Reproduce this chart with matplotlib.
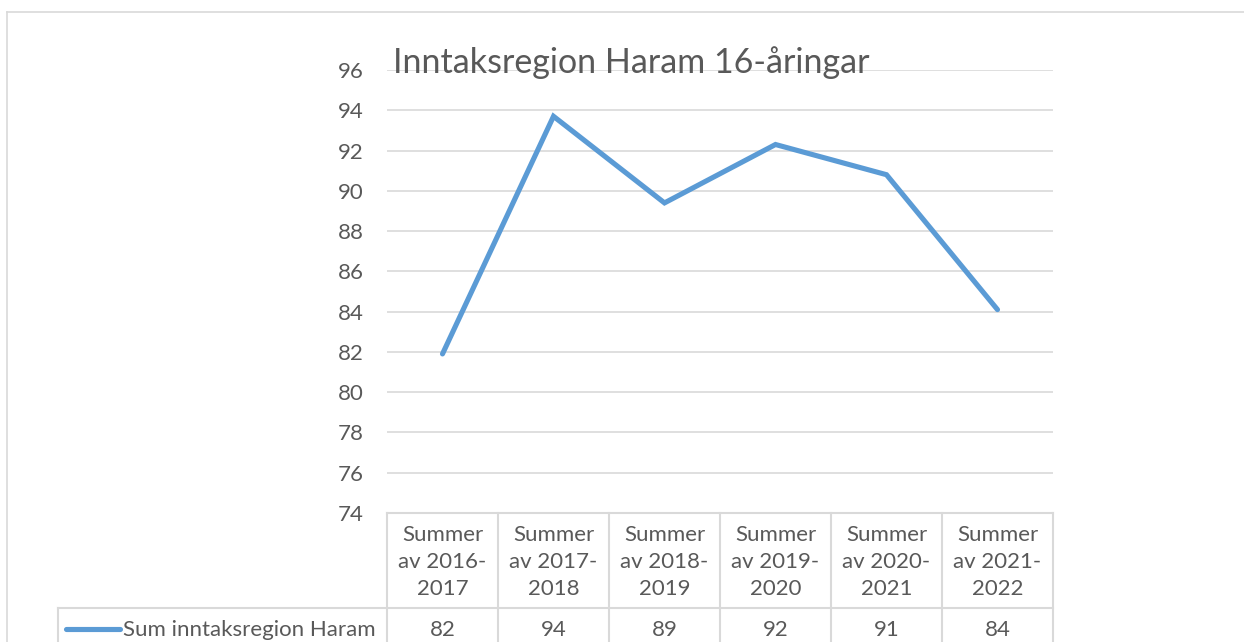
import matplotlib
matplotlib.use("Agg")
import matplotlib.pyplot as plt
import matplotlib.transforms as mtransforms
from matplotlib.lines import Line2D

plt.rcParams['font.family'] = ['Lato', 'DejaVu Sans']

# data
periods = ["2016-2017", "2017-2018", "2018-2019", "2019-2020", "2020-2021", "2021-2022"]
values = [81.9, 93.7, 89.4, 92.3, 90.8, 84.1]
series_name = "Sum inntaksregion Haram"
title = "Inntaksregion Haram 16-åringar"
yticks = list(range(74, 97, 2))

txt = "#595959"
grid = "#D9D9D9"
blue = "#5B9BD5"

W, H = 1244, 642
fig = plt.figure(figsize=(W / 100, H / 100), dpi=100)
fig.patch.set_facecolor("white")

def fx(px):
    return px / W

def fy(py):
    return 1 - py / H

# plot area
ax = fig.add_axes([fx(387), fy(513), fx(1053) - fx(387), fy(70) - fy(513)])
x = list(range(len(values)))
ax.plot(x, values, color=blue, lw=3.7, solid_capstyle="round", solid_joinstyle="miter")
ax.set_xlim(-0.5, len(values) - 0.5)
ax.set_ylim(74, 96)
ax.set_yticks(yticks)
ax.set_xticks([])
ax.yaxis.grid(True, color=grid, lw=1.2)
ax.set_axisbelow(True)
for s in ax.spines.values():
    s.set_visible(False)
ax.tick_params(axis="y", length=0, pad=17, labelsize=16, labelcolor=txt)

# outer chart border
fig.add_artist(Line2D([fx(7), fx(7)], [0, fy(12)], color=grid, lw=1.2))
fig.add_artist(Line2D([fx(7), 1], [fy(12), fy(12)], color=grid, lw=1.2))

# title
fig.text(fx(631), fy(73), title, ha="center", va="baseline", fontsize=24.5, color=txt)

# data table under the axis
tr = mtransforms.blended_transform_factory(ax.transData, fig.transFigure)
top, mid = fy(513), fy(608)
edges = [i - 0.5 for i in range(len(values) + 1)]
for e in edges:
    fig.add_artist(Line2D([e, e], [0, top], color=grid, lw=1.5, transform=tr))
fig.add_artist(Line2D([edges[0], edges[-1]], [top, top], color=grid, lw=1.5, transform=tr))
fig.add_artist(Line2D([fx(58), fx(1053)], [mid, mid], color=grid, lw=1.5))
fig.add_artist(Line2D([fx(58), fx(58)], [0, mid], color=grid, lw=1.5))

for i, (p, v) in enumerate(zip(periods, values)):
    fig.text(i, fy(562), "Summer\nav " + p[:5] + "\n" + p[5:], transform=tr,
             ha="center", va="center", fontsize=16, color=txt, linespacing=1.45)
    fig.text(i, fy(630), f"{v:.0f}", transform=tr, ha="center", va="center",
             fontsize=16, color=txt)

# legend key in the table
fig.add_artist(Line2D([fx(66), fx(120)], [fy(629), fy(629)], color=blue, lw=3.7,
                      solid_capstyle="round"))
fig.text(fx(123), fy(630), series_name, ha="left", va="center", fontsize=16, color=txt)

fig.savefig("out.png", dpi=100, facecolor="white")
